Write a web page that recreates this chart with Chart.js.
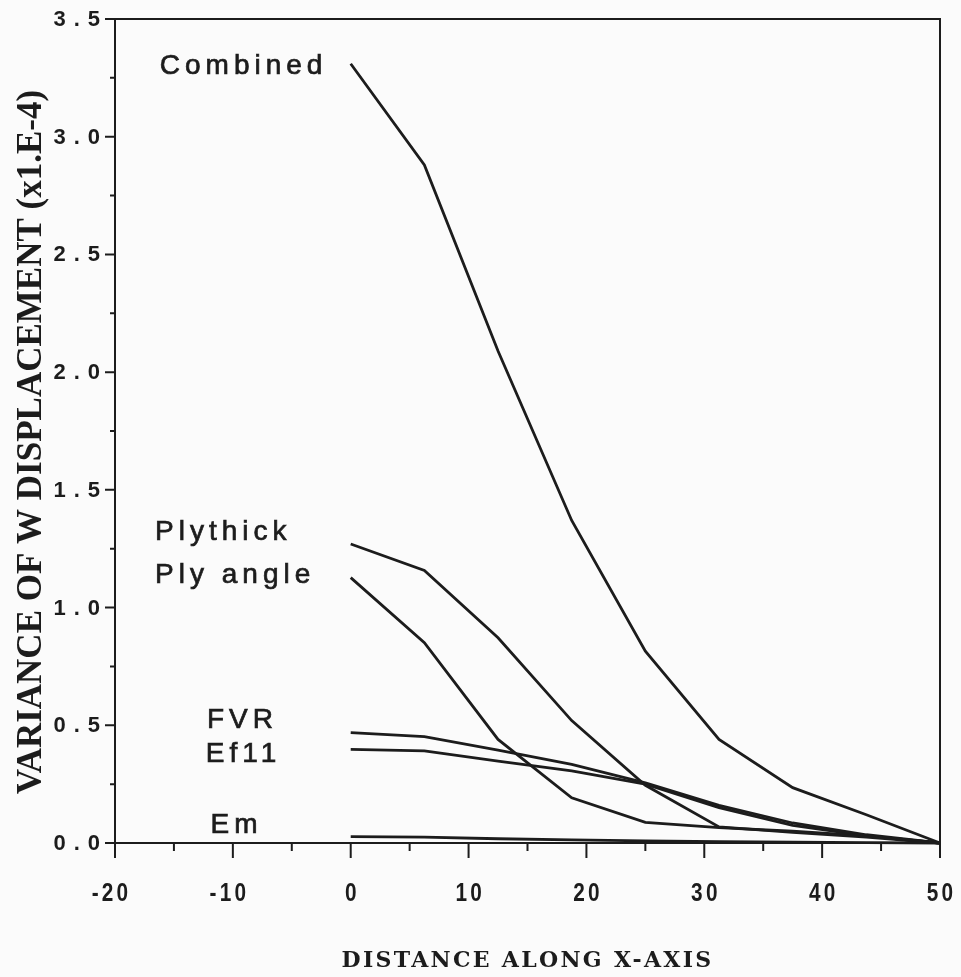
<!DOCTYPE html>
<html><head><meta charset="utf-8">
<script src="https://cdn.jsdelivr.net/npm/chart.js@4.4.1/dist/chart.umd.min.js"></script>
<style>html,body{margin:0;padding:0;background:#fbfbfb;}#wrap{width:961px;height:977px;position:relative;}</style>
</head><body><div id="wrap"><canvas id="c"></canvas></div>
<script>
// ---- data ----
const xPositions = [0, 6.25, 12.5, 18.75, 25, 31.25, 37.5, 43.75, 50];
const combined  = [3.31, 2.88, 2.09, 1.37, 0.815, 0.44, 0.235, 0.12, 0];
const plythick  = [1.27, 1.158, 0.872, 0.52, 0.245, 0.068, 0.045, 0.025, 0];
const plyAngle  = [1.127, 0.851, 0.44, 0.192, 0.088, 0.065, 0.05, 0.03, 0];
const fvr       = [0.469, 0.452, 0.395, 0.334, 0.255, 0.16, 0.085, 0.035, 0];
const ef11      = [0.398, 0.391, 0.348, 0.306, 0.25, 0.15, 0.075, 0.03, 0];
const em        = [0.027, 0.025, 0.018, 0.013, 0.009, 0.006, 0.004, 0.002, 0];
const seriesNames = ['Combined', 'Plythick', 'Ply angle', 'FVR', 'Ef11', 'Em'];
const seriesValues = [combined, plythick, plyAngle, fvr, ef11, em];
const xTickValues = [-20, -10, 0, 10, 20, 30, 40, 50];
const xTickLabels = ['-20', '-10', '0', '10', '20', '30', '40', '50'];
const xMinorTicks = [-15, -5, 5, 15, 25, 35, 45];
const yTickValues = [0, 0.5, 1, 1.5, 2, 2.5, 3, 3.5];
const yTickLabels = ['0.0', '0.5', '1.0', '1.5', '2.0', '2.5', '3.0', '3.5'];
const yMinorTicks = [0.25, 0.75, 1.25, 1.75, 2.25, 2.75, 3.25];
const xTitle = 'DISTANCE ALONG X-AXIS';
const yTitle = 'VARIANCE OF W DISPLACEMENT (x1.E-4)';
// label anchor points (data units, left/baseline of each series label)
const labelAnchors = [[-16.2, 3.266], [-16.6, 1.287], [-16.6, 1.104], [-12.2, 0.488], [-12.3, 0.344], [-11.9, 0.042]];

const INK = '#1c1c1c';

const decor = {
  id: 'decor',
  afterDraw(chart) {
    const {ctx, chartArea: a, scales: {x, y}} = chart;
    ctx.save();
    ctx.strokeStyle = INK; ctx.fillStyle = INK; ctx.lineWidth = 2;
    ctx.strokeRect(a.left, a.top, a.right - a.left, a.bottom - a.top);
    ctx.beginPath();
    xTickValues.forEach(v => { const p = x.getPixelForValue(v); ctx.moveTo(p, a.bottom); ctx.lineTo(p, a.bottom + 15); });
    xMinorTicks.forEach(v => { const p = x.getPixelForValue(v); ctx.moveTo(p, a.bottom); ctx.lineTo(p, a.bottom + 8); });
    yTickValues.forEach(v => { const p = y.getPixelForValue(v); ctx.moveTo(a.left, p); ctx.lineTo(a.left - 10, p); });
    yMinorTicks.forEach(v => { const p = y.getPixelForValue(v); ctx.moveTo(a.left, p); ctx.lineTo(a.left - 5, p); });
    ctx.stroke();

    // x tick labels (condensed)
    ctx.font = 'bold 26px "Liberation Sans", Arial, sans-serif';
    ctx.letterSpacing = '4px';
    ctx.textBaseline = 'middle'; ctx.textAlign = 'left';
    const sx = 0.8;
    xTickLabels.forEach((t, i) => {
      const p = x.getPixelForValue(xTickValues[i]);
      const body = t.replace(/^-/, '');
      const wb = (ctx.measureText(body).width - 4) * sx;
      const wp = t.length > body.length ? ctx.measureText('-').width * sx : 0;
      ctx.save();
      ctx.translate(p - wb / 2 - wp, a.bottom + 51);
      ctx.scale(sx, 1);
      ctx.fillText(t, 0, 0);
      ctx.restore();
    });
    // y tick labels
    ctx.font = 'bold 22px "Liberation Sans", Arial, sans-serif';
    ctx.letterSpacing = '8px';
    yTickLabels.forEach((t, i) => {
      const p = y.getPixelForValue(yTickValues[i]);
      const w = ctx.measureText(t).width - 8;
      ctx.fillText(t, 100 - w, p + 1);
    });

    // series labels
    ctx.font = '28px "Liberation Sans", Arial, sans-serif';
    ctx.letterSpacing = '5px';
    ctx.textBaseline = 'alphabetic';
    ctx.lineWidth = 0.7;
    seriesNames.forEach((n, i) => {
      const px = x.getPixelForValue(labelAnchors[i][0]), py = y.getPixelForValue(labelAnchors[i][1]);
      ctx.fillText(n, px, py);
      ctx.strokeText(n, px, py);
    });

    // axis titles
    ctx.font = 'bold 22px "DejaVu Serif", serif';
    ctx.letterSpacing = '2.3px';
    ctx.textAlign = 'center';
    ctx.fillText(xTitle, (a.left + a.right) / 2, 967);
    ctx.save();
    ctx.translate(41, 442);
    ctx.rotate(-Math.PI / 2);
    ctx.font = 'bold 35px "Liberation Serif", serif';
    ctx.letterSpacing = '0px';
    ctx.fillText(yTitle, 0, 0);
    ctx.restore();
    ctx.restore();
  }
};

new Chart(document.getElementById('c'), {
  type: 'line',
  data: {
    datasets: seriesNames.map((n, i) => ({
      label: n,
      data: xPositions.map((xv, j) => ({x: xv, y: seriesValues[i][j]})),
      borderColor: INK, borderWidth: 2.8, pointRadius: 0, tension: 0, fill: false, clip: false
    }))
  },
  options: {
    animation: false, responsive: true, maintainAspectRatio: false,
    layout: {padding: {top: 19, right: 21, left: 0, bottom: 0}},
    plugins: {legend: {display: false}, tooltip: {enabled: false}},
    scales: {
      x: {type: 'linear', min: -20, max: 50, ticks: {display: false}, grid: {display: false}, border: {display: false},
          afterFit: s => { s.height = 134; }},
      y: {type: 'linear', min: 0, max: 3.5, ticks: {display: false}, grid: {display: false}, border: {display: false},
          afterFit: s => { s.width = 115; }}
    }
  },
  plugins: [decor]
});
</script></body></html>
